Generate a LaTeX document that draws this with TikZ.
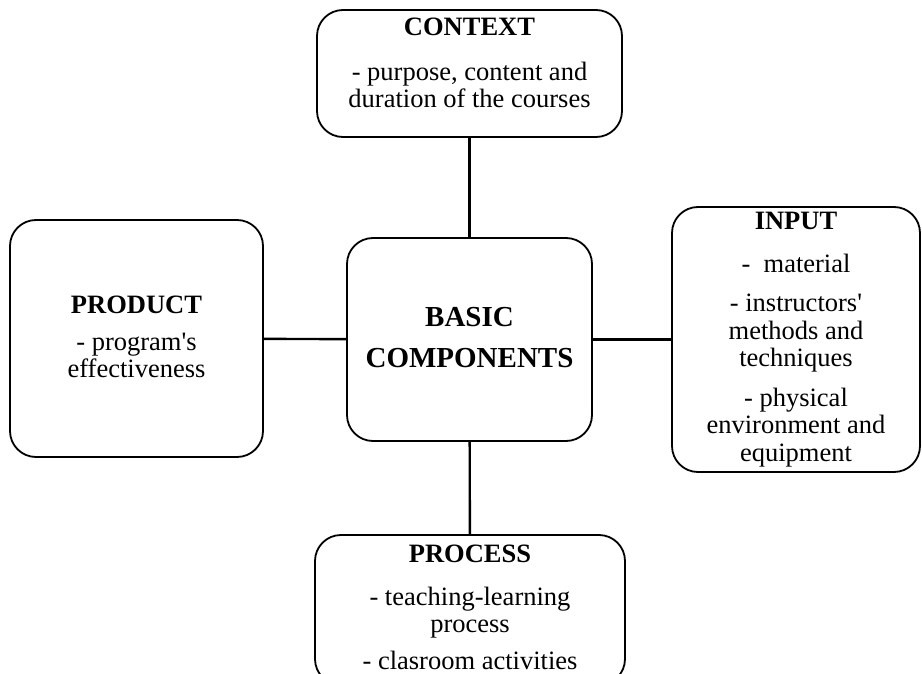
\documentclass[tikz,border=0pt]{standalone}
\usepackage{fontspec}
\setmainfont{Liberation Serif}[Ligatures=TeXOff]
\usepackage{tikz}

\tikzset{
  part/.style={draw, line width=1.8pt, rounded corners=26pt, inner sep=0pt},
  parttext/.style={align=center, inner sep=0pt, anchor=north,
    font=\fontsize{26.5}{27.5}\selectfont},
  link/.style={line width=2.4pt}
}

\begin{document}
\begin{tikzpicture}[x=1pt, y=-1pt]
  \useasboundingbox (0,0) rectangle (922,674);
  \clip (0,0) rectangle (922,674);

  % the five boxes
  \node[part, minimum width=245, minimum height=203] (core) at (469.5,339.5) {};
  \node[part, minimum width=305, minimum height=127] (context) at (469.5,73.5) {};
  \node[part, minimum width=253, minimum height=237] (product) at (136.5,338.5) {};
  \node[part, minimum width=248, minimum height=265] (input) at (796,339.5) {};
  \node[part, minimum width=310, minimum height=150] (process) at (470,610) {};

  % texts
  \node[parttext, font=\fontsize{29}{41}\selectfont\bfseries] (coretext) at (469.5,307.4)
    {BASIC\\COMPONENTS};
  \node[parttext] (contexttext) at (469.5,17.4)
    {\textbf{CONTEXT}\\[17.5pt]- purpose, content and\\duration of the courses};
  \node[parttext] (producttext) at (136.5,295.4)
    {\textbf{PRODUCT}\\[9.5pt]- program's\\effectiveness};
  \node[parttext] (inputtext) at (796,212.4)
    {\textbf{INPUT}\\[15.5pt]-\ \ material\\[11.5pt]- instructors'\\methods and\\techniques\\[12pt]- physical\\environment and\\equipment};
  \node[parttext] (processtext) at (470,544.4)
    {\textbf{PROCESS}\\[15.5pt]- teaching-learning\\process\\[9.5pt]- clasroom activities};

  % connectors
  \draw[link] (core) -- (context);
  \draw[link] (core) -- (product);
  \draw[link] (core) -- (input);
  \draw[link] (core) -- (process);
\end{tikzpicture}
\end{document}
